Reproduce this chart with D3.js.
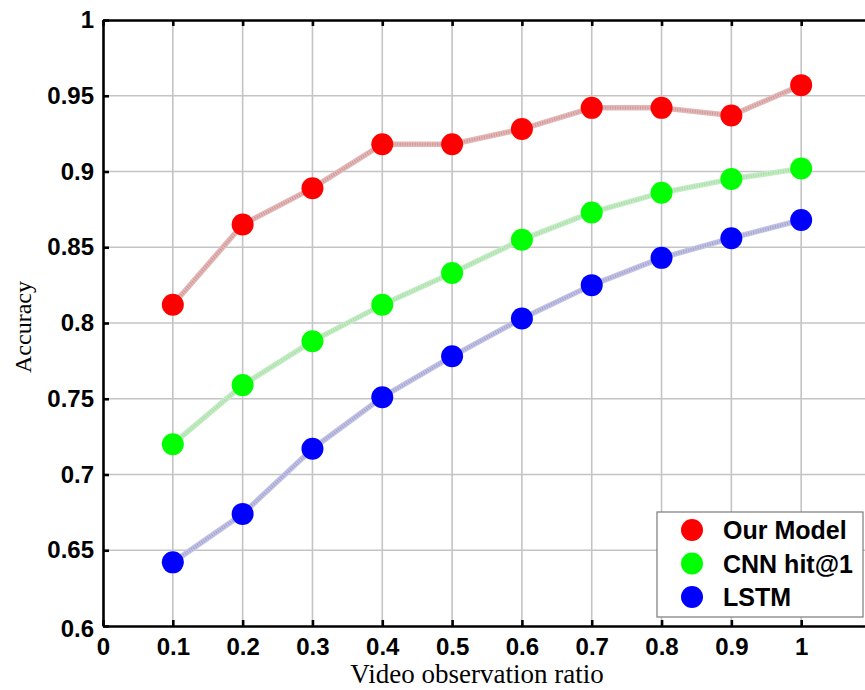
<!DOCTYPE html>
<html>
<head>
<meta charset="utf-8">
<script src="https://cdn.jsdelivr.net/npm/d3@7"></script>
<style>
  html, body { margin: 0; padding: 0; background: #fff; }
  svg { display: block; }
</style>
</head>
<body>
<svg id="chart" width="865" height="690"></svg>
<script>
const ratios = [0.1, 0.2, 0.3, 0.4, 0.5, 0.6, 0.7, 0.8, 0.9, 1.0];
const ourModel = [0.812, 0.865, 0.889, 0.918, 0.918, 0.928, 0.942, 0.942, 0.937, 0.957];
const cnnHit1 = [0.720, 0.759, 0.788, 0.812, 0.833, 0.855, 0.873, 0.886, 0.895, 0.902];
const lstm = [0.642, 0.674, 0.717, 0.751, 0.778, 0.803, 0.825, 0.843, 0.856, 0.868];
const seriesNames = ["Our Model", "CNN hit@1", "LSTM"];
const xTicks = [0, 0.1, 0.2, 0.3, 0.4, 0.5, 0.6, 0.7, 0.8, 0.9, 1];
const yTicks = [0.6, 0.65, 0.7, 0.75, 0.8, 0.85, 0.9, 0.95, 1];
const xTickLabels = ["0", "0.1", "0.2", "0.3", "0.4", "0.5", "0.6", "0.7", "0.8", "0.9", "1"];
const yTickLabels = ["0.6", "0.65", "0.7", "0.75", "0.8", "0.85", "0.9", "0.95", "1"];

(function () {
const series = [
  { name: seriesNames[0], values: ourModel, fill: "#ff0000", line: "#e3b8b8", core: "#c07878" },
  { name: seriesNames[1], values: cnnHit1, fill: "#00ff00", line: "#c4ecc4", core: "#8fd08f" },
  { name: seriesNames[2], values: lstm, fill: "#0000ff", line: "#c2c2e4", core: "#8585c0" }
];

const svg = d3.select("#chart");
const pL = 103, pR = 871, pT = 20, pB = 626;
const x = d3.scaleLinear().domain([0, 1.1]).range([pL, pR]);
const y = d3.scaleLinear().domain([0.6, 1]).range([pB, pT]);

// grid
const grid = svg.append("g");
grid.selectAll("line.gx").data(xTicks.slice(1)).join("line")
  .attr("x1", d => x(d)).attr("x2", d => x(d))
  .attr("y1", pT).attr("y2", pB)
  .attr("stroke", "#c4c4c4").attr("stroke-width", 1.6);
grid.selectAll("line.gy").data(yTicks.slice(1, -1)).join("line")
  .attr("x1", pL).attr("x2", pR)
  .attr("y1", d => y(d)).attr("y2", d => y(d))
  .attr("stroke", "#c4c4c4").attr("stroke-width", 1.6);

// axes
const fmtX = (d, i) => xTickLabels[i];
const fmtY = (d, i) => yTickLabels[i];
const xAxis = svg.append("g").attr("transform", `translate(0,${pB})`)
  .call(d3.axisBottom(x).tickValues(xTicks).tickFormat(fmtX).tickSizeInner(-6).tickSizeOuter(0).tickPadding(12));
const xAxisTop = svg.append("g").attr("transform", `translate(0,${pT})`)
  .call(d3.axisTop(x).tickValues(xTicks).tickFormat("").tickSizeInner(-6).tickSizeOuter(0));
const yAxis = svg.append("g").attr("transform", `translate(${pL},0)`)
  .call(d3.axisLeft(y).tickValues(yTicks).tickFormat(fmtY).tickSizeInner(-6).tickSizeOuter(0).tickPadding(9));
const yAxisRight = svg.append("g").attr("transform", `translate(${pR},0)`)
  .call(d3.axisRight(y).tickValues(yTicks).tickFormat("").tickSizeInner(-6).tickSizeOuter(0));

[xAxis, xAxisTop, yAxis, yAxisRight].forEach(g => {
  g.select(".domain").attr("stroke", "#000").attr("stroke-width", 2.6);
  g.selectAll(".tick line").attr("stroke", "#000").attr("stroke-width", 2.6);
  g.selectAll(".tick text")
    .attr("fill", "#000")
    .style("font-family", "'Liberation Sans', Arial, sans-serif")
    .style("font-weight", "bold")
    .style("font-size", "24px");
});
yAxis.selectAll(".tick text").filter(d => d === 0.6).attr("dy", "0.45em");

// axis titles
svg.append("text")
  .attr("x", 477).attr("y", 683)
  .attr("text-anchor", "middle")
  .style("font-family", "'Liberation Serif', 'Times New Roman', serif")
  .style("font-size", "27px")
  .text("Video observation ratio");
svg.append("text")
  .attr("transform", "translate(31,327) rotate(-90)")
  .attr("text-anchor", "middle")
  .style("font-family", "'Liberation Serif', 'Times New Roman', serif")
  .style("font-size", "24px")
  .text("Accuracy");

// lines
const line = d3.line().x((d, i) => x(ratios[i])).y(d => y(d));
const plot = svg.append("g");
series.forEach(s => {
  plot.append("path").datum(s.values)
    .attr("d", line).attr("fill", "none")
    .attr("stroke", s.line).attr("stroke-width", 5.5)
    .attr("stroke-linejoin", "round");
  plot.append("path").datum(s.values)
    .attr("d", line).attr("fill", "none")
    .attr("stroke", s.core).attr("stroke-width", 3)
    .attr("stroke-dasharray", "1 1.5")
    .attr("stroke-opacity", 0.55);
});
series.forEach(s => {
  plot.selectAll(null).data(s.values).join("circle")
    .attr("cx", (d, i) => x(ratios[i]))
    .attr("cy", d => y(d))
    .attr("r", 11)
    .attr("fill", s.fill);
});

// legend
const lg = svg.append("g");
lg.append("rect")
  .attr("x", 657).attr("y", 512).attr("width", 206).attr("height", 105)
  .attr("fill", "#fff").attr("stroke", "#7a7a7a").attr("stroke-width", 1.2);
series.forEach((s, i) => {
  const cy = 530 + i * 33.5;
  lg.append("circle").attr("cx", 692).attr("cy", cy).attr("r", 11).attr("fill", s.fill);
  lg.append("text").attr("x", 723).attr("y", cy).attr("dy", "0.36em")
    .style("font-family", "'Liberation Sans', Arial, sans-serif")
    .style("font-weight", "bold").style("font-size", "25px")
    .text(s.name);
});
})();
</script>
</body>
</html>
